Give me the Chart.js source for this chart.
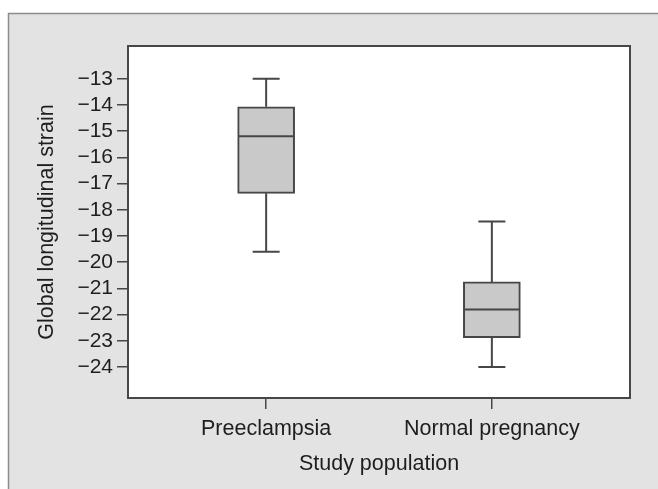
<!DOCTYPE html>
<html>
<head>
<meta charset="utf-8">
<script src="https://cdn.jsdelivr.net/npm/chart.js@4/dist/chart.umd.min.js"></script>
<style>
  body { margin: 0; background: #fff; }
  canvas { display: block; }
</style>
</head>
<body>
<canvas id="chart" width="658" height="489"></canvas>
<script>
// box plot values
const categories = ['Preeclampsia', 'Normal pregnancy'];
const whiskerHigh = [-13.0, -18.45];
const q3 = [-14.07, -20.75];
const median = [-15.19, -21.8];
const q1 = [-17.37, -22.88];
const whiskerLow = [-19.6, -24.0];
const yTicks = [-13, -14, -15, -16, -17, -18, -19, -20, -21, -22, -23, -24];

const lineColor = '#474747';
const textColor = '#1e1e1e';
const fontFamily = '"Liberation Sans", Arial, sans-serif';

const boxData = categories.map((c, i) => ({ x: i, y: [q1[i], q3[i]] }));

// grey panel + white plot area, then the frame and whiskers
const boxPlotPlugin = {
    id: 'boxPlot',
    beforeDraw(chart) {
        const ctx = chart.ctx;
        const a = chart.chartArea;
        ctx.save();
        ctx.fillStyle = '#e3e3e3';
        ctx.fillRect(8, 13, 700, 500);
        ctx.strokeStyle = '#8c8c8c';
        ctx.lineWidth = 1.5;
        ctx.beginPath();
        ctx.moveTo(8.5, 520);
        ctx.lineTo(8.5, 13.5);
        ctx.lineTo(700, 13.5);
        ctx.stroke();
        ctx.fillStyle = '#ffffff';
        ctx.fillRect(a.left, a.top, a.right - a.left, a.bottom - a.top);
        ctx.restore();
    },
    afterDatasetsDraw(chart) {
        const ctx = chart.ctx;
        const xs = chart.scales.x;
        const ys = chart.scales.y;
        ctx.save();
        ctx.strokeStyle = lineColor;
        ctx.lineWidth = 2;
        categories.forEach((c, i) => {
            const x = xs.getPixelForValue(i);
            const yHi = ys.getPixelForValue(whiskerHigh[i]);
            const yQ3 = ys.getPixelForValue(q3[i]);
            const yQ1 = ys.getPixelForValue(q1[i]);
            const yLo = ys.getPixelForValue(whiskerLow[i]);
            const yMed = ys.getPixelForValue(median[i]);
            ctx.beginPath();
            ctx.moveTo(x, yHi); ctx.lineTo(x, yQ3);
            ctx.moveTo(x, yQ1); ctx.lineTo(x, yLo);
            ctx.moveTo(x - 13.5, yHi); ctx.lineTo(x + 13.5, yHi);
            ctx.moveTo(x - 13.5, yLo); ctx.lineTo(x + 13.5, yLo);
            ctx.moveTo(x - 28, yMed); ctx.lineTo(x + 28, yMed);
            ctx.stroke();
        });
        ctx.restore();
    },
    afterDraw(chart) {
        const ctx = chart.ctx;
        const a = chart.chartArea;
        ctx.save();
        ctx.strokeStyle = lineColor;
        ctx.lineWidth = 2;
        ctx.strokeRect(a.left, a.top, a.right - a.left, a.bottom - a.top);
        ctx.restore();
    }
};

const ctx = document.getElementById('chart').getContext('2d');
const myChart = new Chart(ctx, {
    type: 'bar',
    data: {
        datasets: [{
            data: boxData,
            backgroundColor: '#c9c9c9',
            borderColor: lineColor,
            borderWidth: 2,
            borderSkipped: false,
            barThickness: 57
        }]
    },
    options: {
        responsive: false,
        animation: false,
        layout: { padding: { top: 46, right: 28, left: 0, bottom: 0 } },
        plugins: {
            legend: { display: false },
            tooltip: { enabled: false }
        },
        scales: {
            x: {
                type: 'linear',
                offset: false,
                min: -0.612,
                max: 1.612,
                afterBuildTicks(scale) {
                    scale.ticks = categories.map((c, i) => ({ value: i }));
                },
                afterFit(scale) { scale.height = 91; },
                grid: {
                    offset: false,
                    drawOnChartArea: false,
                    drawTicks: true,
                    tickLength: 11,
                    color: lineColor,
                    lineWidth: 1.5
                },
                border: { display: false },
                ticks: {
                    padding: 7,
                    color: textColor,
                    font: { family: fontFamily, size: 21.5 },
                    callback: (v) => categories[v]
                },
                title: {
                    display: true,
                    text: 'Study population',
                    color: textColor,
                    font: { family: fontFamily, size: 21.5 },
                    padding: { top: 0, bottom: 12 }
                }
            },
            y: {
                min: -25.18,
                max: -11.75,
                afterBuildTicks(scale) {
                    scale.ticks = yTicks.map(v => ({ value: v }));
                },
                afterFit(scale) { scale.width = 128; },
                grid: {
                    drawOnChartArea: false,
                    drawTicks: true,
                    tickLength: 11,
                    color: lineColor,
                    lineWidth: 1.5
                },
                border: { display: false },
                ticks: {
                    padding: 4,
                    color: textColor,
                    font: { family: fontFamily, size: 21 },
                    callback: (v) => '\u2212' + Math.abs(v)
                },
                title: {
                    display: true,
                    text: 'Global longitudinal strain',
                    color: textColor,
                    font: { family: fontFamily, size: 21.5 },
                    padding: { top: 34, bottom: 0 }
                }
            }
        }
    },
    plugins: [boxPlotPlugin]
});
</script>
</body>
</html>
